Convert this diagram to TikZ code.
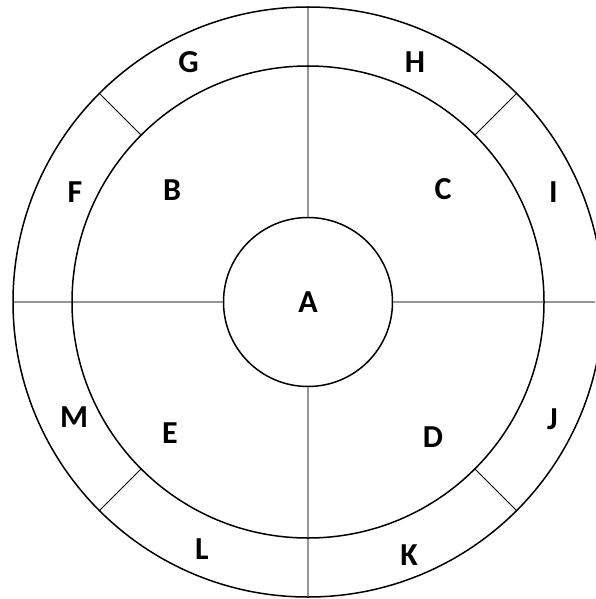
\documentclass[tikz,border=0pt]{standalone}
\usepackage{fontspec}
\setmainfont{Carlito}
\begin{document}
\begin{tikzpicture}[x=1pt,y=-1pt,
  ring/.style={draw=black,line width=1.5pt},
  cross/.style={draw={rgb,255:red,150;green,150;blue,150},line width=1.5pt},
  spoke/.style={draw=black,line width=0.8pt},
  lab/.style={font=\fontsize{32}{32}\selectfont\bfseries,inner sep=0pt,anchor=center}]
\useasboundingbox (0,0) rectangle (595,599);
\coordinate (O) at (308,302);
% cross lines
\coordinate (top) at (308,7);
\coordinate (bot) at (308,597);
\coordinate (lft) at (13,302);
\coordinate (rgt) at (595,302);
\node[circle,ring,minimum size=169pt,inner sep=0pt] (core) at (O) {};
\draw[cross] (top) -- (core.north);
\draw[cross] (core.south) -- (bot);
\draw[cross] (lft) -- (core.west);
\draw[cross] (core.east) -- (rgt);
\draw[ring] (O) circle[radius=236pt];
\draw[ring] (O) circle[radius=295pt];
\foreach \a in {45,135,225,315}{
  \draw[spoke] (O) ++(\a:236pt) -- ++(\a:59pt);
}
\node[lab] (A) at (O) {A};
\node[lab] (B) at (172,190) {B};
\node[lab] (C) at (443,189) {C};
\node[lab] (D) at (433,437) {D};
\node[lab] (E) at (170,433) {E};
\node[lab] (F) at (75,192) {F};
\node[lab] (G) at (188.5,62.5) {G};
\node[lab] (H) at (415,62.5) {H};
\node[lab] (I) at (553.5,192) {I};
\node[lab] (J) at (552.5,419) {J};
\node[lab] (K) at (409,555) {K};
\node[lab] (L) at (202,549.5) {L};
\node[lab] (M) at (74,417) {M};
\end{tikzpicture}
\end{document}
